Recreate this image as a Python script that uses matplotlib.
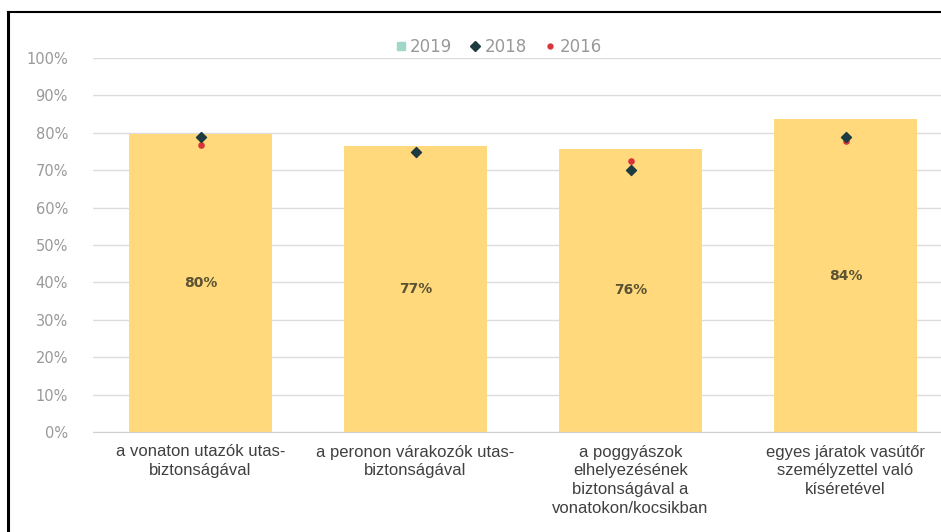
import matplotlib
matplotlib.use("Agg")
import matplotlib.pyplot as plt
from matplotlib.lines import Line2D
import numpy as np

categories = [
    "a vonaton utazók utas-\nbiztonságával",
    "a peronon várakozók utas-\nbiztonságával",
    "a poggyászok\nelhelyezésének\nbiztonságával a\nvonatokon/kocsikban",
    "egyes járatok vasútőr\nszemélyzettel való\nkíséretével",
]
v2019 = [0.797, 0.766, 0.757, 0.836]
v2018 = [0.79, 0.749, 0.70, 0.79]
v2016 = [0.767, 0.75, 0.725, 0.778]
yticks = [0, 0.1, 0.2, 0.3, 0.4, 0.5, 0.6, 0.7, 0.8, 0.9, 1.0]

fig = plt.figure(figsize=(9.41, 5.32), dpi=100)
ax = fig.add_axes([93 / 941, 100 / 532, 860 / 941, 374 / 532])

x = np.arange(len(categories))
ax.bar(x, v2019, width=0.665, color="#FFD97C", label="2019", zorder=2)
ax.scatter(x, v2018, marker="D", s=26, color="#1E3B42", label="2018", zorder=4)
ax.scatter(x, v2016, marker="o", s=14, color="#D8333A", label="2016", zorder=3)

for xi, v in zip(x, v2019):
    ax.text(xi, v / 2, f"{v * 100:.0f}%", ha="center", va="center",
            fontsize=10, fontweight="bold", color="#5A5232", family="DejaVu Sans")

ax.set_xlim(-0.5, len(categories) - 0.5)
ax.set_ylim(0, 1)
ax.set_yticks(yticks)
ax.set_yticklabels([f"{int(round(t * 100))}%" for t in yticks],
                   fontsize=10.5, color="#999999")
ax.set_xticks(x)
ax.set_xticklabels(categories, fontsize=12, color="#404040",
                   family="Liberation Sans", linespacing=1.32)
ax.tick_params(length=0)
ax.tick_params(axis="y", pad=18)
ax.tick_params(axis="x", pad=9)
ax.grid(axis="y", color="#DCDCDC", linewidth=1, zorder=0)
ax.set_axisbelow(True)
for s in ["top", "right", "left"]:
    ax.spines[s].set_visible(False)
ax.spines["bottom"].set_color("#D0D0D0")

handles = [
    Line2D([], [], marker="s", linestyle="", color="#9FD8C8", markersize=6),
    Line2D([], [], marker="D", linestyle="", color="#1E3B42", markersize=5),
    Line2D([], [], marker="o", linestyle="", color="#D8333A", markersize=3.5),
]
leg = fig.legend(handles, ["2019", "2018", "2016"], loc="center",
                 bbox_to_anchor=(497 / 941, 1 - 47 / 532), ncol=3, frameon=False,
                 handletextpad=0.05, columnspacing=0.9,
                 handlelength=1.0, prop={"family": "DejaVu Sans", "size": 12})
for t in leg.get_texts():
    t.set_color("#999999")

# frame lines on top and left
fig.add_artist(Line2D([7.5 / 941, 7.5 / 941], [0, 1 - 12 / 532],
                      transform=fig.transFigure, color="black", linewidth=2.2))
fig.add_artist(Line2D([7.5 / 941, 1], [1 - 12 / 532, 1 - 12 / 532],
                      transform=fig.transFigure, color="black", linewidth=1.5))

fig.savefig("out.png", dpi=100)
